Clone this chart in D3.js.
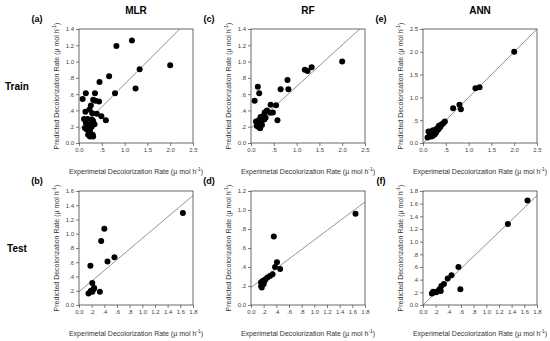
<!DOCTYPE html>
<html>
<head>
<meta charset="utf-8">
<script src="https://cdn.jsdelivr.net/npm/d3@7"></script>
<style>
  body { margin: 0; background: #fff; }
  svg { font-family: Arial, "Liberation Sans", sans-serif; }
</style>
</head>
<body>
<div id="root"></div>
<script>
var width = 550;
var height = 341;

// MLR, training set
var mlrTrainX = [0.08, 0.15, 0.82, 1.16, 2.0, 1.33, 1.24, 0.79, 0.66, 0.45, 0.35, 0.31, 0.36, 0.44, 0.59, 0.49, 0.26, 0.14, 0.23, 0.29, 0.39, 0.11, 0.19, 0.28, 0.31, 0.15, 0.23, 0.13, 0.17, 0.24, 0.28, 0.2, 0.24, 0.30, 0.31, 0.2, 0.34];
var mlrTrainY = [0.54, 0.61, 1.19, 1.26, 0.955, 0.906, 0.67, 0.61, 0.82, 0.75, 0.61, 0.53, 0.52, 0.51, 0.28, 0.33, 0.46, 0.385, 0.41, 0.365, 0.36, 0.295, 0.295, 0.29, 0.27, 0.25, 0.225, 0.185, 0.165, 0.155, 0.2, 0.10, 0.08, 0.10, 0.08, 0.205, 0.23];
// MLR, test set
var mlrTestX = [1.64, 0.40, 0.35, 0.18, 0.45, 0.56, 0.21, 0.33, 0.15, 0.19, 0.23, 0.24, 0.21, 0.18];
var mlrTestY = [1.29, 1.07, 0.90, 0.55, 0.61, 0.67, 0.31, 0.185, 0.16, 0.20, 0.22, 0.24, 0.185, 0.185];

// RF, training set
var rfTrainX = [0.08, 0.15, 0.18, 0.65, 0.80, 0.82, 1.18, 1.24, 1.33, 2.0, 0.43, 0.55, 0.58, 0.48, 0.42, 0.35, 0.30, 0.26, 0.21, 0.29, 0.11, 0.15, 0.20, 0.125, 0.17, 0.2, 0.24, 0.14, 0.23, 0.18, 0.32];
var rfTrainY = [0.52, 0.69, 0.61, 0.66, 0.775, 0.66, 0.90, 0.885, 0.93, 1.0, 0.47, 0.465, 0.28, 0.375, 0.37, 0.40, 0.375, 0.33, 0.32, 0.29, 0.265, 0.25, 0.245, 0.21, 0.195, 0.18, 0.22, 0.235, 0.27, 0.285, 0.31];
// RF, test set
var rfTestX = [1.65, 0.36, 0.41, 0.38, 0.46, 0.34, 0.30, 0.26, 0.23, 0.19, 0.17, 0.16, 0.17, 0.2, 0.21, 0.16];
var rfTestY = [0.96, 0.72, 0.45, 0.40, 0.38, 0.325, 0.305, 0.29, 0.27, 0.255, 0.23, 0.20, 0.185, 0.22, 0.25, 0.24];

// ANN, training set
var annTrainX = [2.0, 1.15, 1.24, 0.66, 0.80, 0.83, 0.48, 0.1, 0.12, 0.15, 0.17, 0.18, 0.2, 0.22, 0.24, 0.25, 0.27, 0.29, 0.3, 0.32, 0.34, 0.36, 0.38, 0.4, 0.42, 0.45, 0.2, 0.15, 0.28, 0.22, 0.35];
var annTrainY = [2.0, 1.20, 1.22, 0.76, 0.84, 0.74, 0.47, 0.12, 0.25, 0.2, 0.14, 0.25, 0.2, 0.22, 0.27, 0.18, 0.25, 0.3, 0.26, 0.33, 0.3, 0.36, 0.35, 0.4, 0.41, 0.44, 0.15, 0.16, 0.22, 0.28, 0.38];
// ANN, test set
var annTestX = [1.65, 1.34, 0.56, 0.59, 0.45, 0.39, 0.33, 0.29, 0.28, 0.24, 0.18, 0.14, 0.16, 0.21, 0.26];
var annTestY = [1.65, 1.28, 0.60, 0.25, 0.47, 0.42, 0.33, 0.30, 0.22, 0.22, 0.20, 0.18, 0.21, 0.20, 0.25];

// fitted lines: [intercept, slope]
var fitLines = [[0.164, 0.56], [0.186, 0.75], [0.184, 0.51], [0.185, 0.50], [0.0, 1.0], [0.0, 0.96]];

var modelNames = ['MLR', 'RF', 'ANN'];
var rowNames = ['Train', 'Test'];
var panelLetters = ['(a)', '(b)', '(c)', '(d)', '(e)', '(f)'];
var xMaxes = [2.5, 1.8];
var xTicksTrain = [0, 0.5, 1.0, 1.5, 2.0, 2.5];
var xTicksTest = [0, 0.2, 0.4, 0.6, 0.8, 1.0, 1.2, 1.4, 1.6, 1.8];
var yMaxes = [1.4, 1.6, 1.4, 1.2, 2.5, 1.8];

var panelData = [
  [mlrTrainX, mlrTrainY], [mlrTestX, mlrTestY],
  [rfTrainX, rfTrainY], [rfTestX, rfTestY],
  [annTrainX, annTrainY], [annTestX, annTestY]
];

var colX = [79, 251, 423];
var rowY = [29, 191];
var size = 114;

var svg = d3.select('#root')
    .append('svg')
    .attr('width', width).attr('height', height);

function fmt(d) {
  if (d === 0) return '0.0';
  var s = d3.format('.1f')(d);
  return d < 1 ? s.replace(/^0/, '') : s;
}

function addUnitLabel(sel, prefix) {
  sel.append('tspan').text(prefix + ' (\u00b5 mol h');
  sel.append('tspan').attr('dy', -3).style('font-size', '5px').text('-1');
  sel.append('tspan').attr('dy', 3).text(')');
}

// column titles
svg.selectAll('.colTitle')
    .data(modelNames).enter()
    .append('text')
    .attr('class', 'colTitle')
    .attr('x', function (d, i) { return colX[i] + size / 2; })
    .attr('y', 14)
    .attr('text-anchor', 'middle')
    .style('font-weight', 'bold')
    .style('font-size', '10px')
    .text(function (d) { return d; });

// row titles
svg.selectAll('.rowTitle')
    .data(rowNames).enter()
    .append('text')
    .attr('class', 'rowTitle')
    .attr('x', 17)
    .attr('y', function (d, i) { return rowY[i] + size / 2 + 4; })
    .attr('text-anchor', 'middle')
    .style('font-weight', 'bold')
    .style('font-size', '10px')
    .text(function (d) { return d; });

panelData.forEach(function (pd, k) {
  var col = Math.floor(k / 2);
  var row = k % 2;
  var x0 = colX[col], y0 = rowY[row];
  var xMax = xMaxes[row];
  var yMax = yMaxes[k];

  var xScale = d3.scaleLinear().domain([0, xMax]).range([0, size]);
  var yScale = d3.scaleLinear().domain([0, yMax]).range([size, 0]);

  var g = svg.append('g').attr('transform', 'translate(' + x0 + ',' + y0 + ')');

  var yTicks = d3.range(0, yMax + 1e-9, yMax > 2 ? 0.5 : 0.2);
  var xTicks = row === 0 ? xTicksTrain : xTicksTest;

  var xAxis = d3.axisBottom(xScale).tickValues(xTicks).tickFormat(fmt).tickSize(3).tickPadding(1.5);
  var yAxis = d3.axisLeft(yScale).tickValues(yTicks).tickFormat(fmt).tickSize(3).tickPadding(2);

  var gx = g.append('g').attr('transform', 'translate(0,' + size + ')').call(xAxis);
  var gy = g.append('g').call(yAxis);
  [gx, gy].forEach(function (a) {
    a.select('.domain').remove();
    a.selectAll('line').attr('stroke', '#444').attr('stroke-width', 0.7);
    a.selectAll('text').style('font-size', '6px').attr('fill', '#444')
      .style('font-family', 'Arial, "Liberation Sans", sans-serif');
  });

  // clip for the fit line
  var clipId = 'clip' + k;
  g.append('clipPath').attr('id', clipId)
    .append('rect').attr('width', size).attr('height', size);

  var fit = fitLines[k];
  var lineData = [0, xMax].map(function (x) { return [x, fit[0] + fit[1] * x]; });
  g.append('path')
    .datum(lineData)
    .attr('clip-path', 'url(#' + clipId + ')')
    .attr('d', d3.line()
      .x(function (d) { return xScale(d[0]); })
      .y(function (d) { return yScale(d[1]); }))
    .attr('fill', 'none')
    .attr('stroke', '#777')
    .attr('stroke-width', 0.8);

  // frame
  g.append('rect')
    .attr('width', size).attr('height', size)
    .attr('fill', 'none')
    .attr('stroke', '#444')
    .attr('stroke-width', 0.8);

  // points
  g.selectAll('.dot')
    .data(d3.range(pd[0].length)).enter()
    .append('circle')
    .attr('class', 'dot')
    .attr('cx', function (i) { return xScale(pd[0][i]); })
    .attr('cy', function (i) { return yScale(pd[1][i]); })
    .attr('r', 3)
    .attr('fill', '#000');

  // axis labels
  var xl = g.append('text')
    .attr('x', size / 2)
    .attr('y', size + 31)
    .attr('text-anchor', 'middle')
    .style('font-size', '7px')
    .attr('fill', '#333');
  addUnitLabel(xl, 'Experimetal Decolorization Rate');

  var yl = g.append('text')
    .attr('transform', 'translate(-20,' + (size / 2) + ') rotate(-90)')
    .attr('text-anchor', 'middle')
    .style('font-size', '7px')
    .attr('fill', '#333');
  addUnitLabel(yl, 'Predicted Decolorization Rate');

  // panel letter
  g.append('text')
    .attr('x', -42)
    .attr('y', -7)
    .attr('text-anchor', 'middle')
    .style('font-weight', 'bold')
    .style('font-size', '9px')
    .text(panelLetters[k]);
});
</script>
</body>
</html>
